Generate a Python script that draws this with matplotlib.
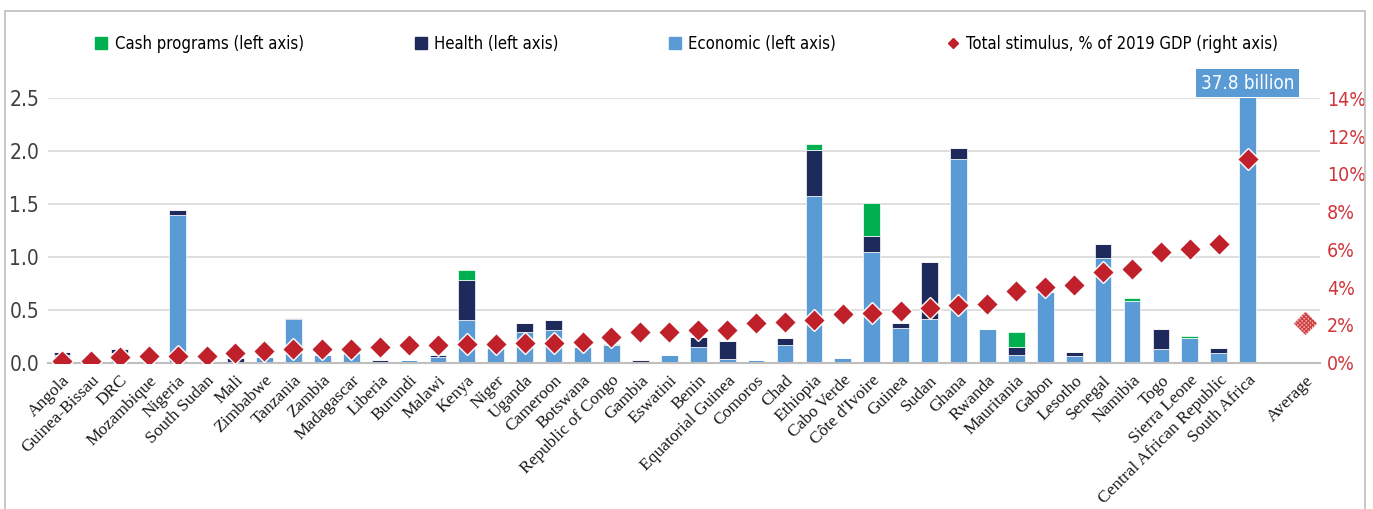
import numpy as np
import matplotlib
matplotlib.use("Agg")
import matplotlib.pyplot as plt
from matplotlib.lines import Line2D
from matplotlib.patches import Rectangle
from matplotlib import font_manager

countries = ["Angola", "Guinea-Bissau", "DRC", "Mozambique", "Nigeria", "South Sudan",
             "Mali", "Zimbabwe", "Tanzania", "Zambia", "Madagascar", "Liberia", "Burundi",
             "Malawi", "Kenya", "Niger", "Uganda", "Cameroon", "Botswana",
             "Republic of Congo", "Gambia", "Eswatini", "Benin", "Equatorial Guinea",
             "Comoros", "Chad", "Ethiopia", "Cabo Verde", "Côte d'Ivoire", "Guinea",
             "Sudan", "Ghana", "Rwanda", "Mauritania", "Gabon", "Lesotho", "Senegal",
             "Namibia", "Togo", "Sierra Leone", "Central African Republic", "South Africa"]

# billions (left axis)
economic = [0.07, 0.0, 0.095, 0.02, 1.40, 0.0, 0.005, 0.05, 0.41, 0.07, 0.09, 0.005, 0.028,
            0.055, 0.40, 0.14, 0.29, 0.31, 0.15, 0.165, 0.005, 0.07, 0.146, 0.038, 0.022,
            0.164, 1.58, 0.047, 1.05, 0.325, 0.413, 1.93, 0.315, 0.076, 0.67, 0.063, 0.993,
            0.586, 0.127, 0.236, 0.095, 37.8]
health = [0.035, 0.0, 0.035, 0.0, 0.045, 0.0, 0.035, 0.0, 0.01, 0.0, 0.0, 0.02, 0.0,
          0.017, 0.38, 0.0, 0.085, 0.095, 0.0, 0.0, 0.02, 0.004, 0.10, 0.167, 0.0,
          0.066, 0.43, 0.0, 0.15, 0.047, 0.542, 0.10, 0.0, 0.075, 0.0, 0.035, 0.129,
          0.0, 0.188, 0.0, 0.044, 0.0]
cash = [0.0, 0.0, 0.0, 0.0, 0.0, 0.0, 0.0, 0.0, 0.0, 0.0, 0.0, 0.0, 0.0,
        0.0, 0.095, 0.0, 0.0, 0.0, 0.0, 0.009, 0.0, 0.0, 0.0, 0.0, 0.0,
        0.0, 0.057, 0.0, 0.307, 0.0, 0.0, 0.0, 0.0, 0.136, 0.0, 0.0, 0.0,
        0.028, 0.0, 0.016, 0.0, 0.0]
# % of 2019 GDP (right axis)
stimulus_pct = [0.1, 0.1, 0.3, 0.35, 0.35, 0.35, 0.53, 0.62, 0.71, 0.74, 0.74, 0.83, 0.94,
                0.94, 0.97, 0.97, 1.06, 1.06, 1.11, 1.38, 1.61, 1.64, 1.73, 1.73, 2.12,
                2.17, 2.26, 2.58, 2.61, 2.75, 2.88, 3.05, 3.10, 3.81, 4.02, 4.11, 4.78,
                4.94, 5.84, 6.02, 6.26, 10.78]
average_pct = 2.08
tick_labels = countries + ["", "Average"]

GREEN = "#00B050"
NAVY = "#1F2A5C"
BLUE = "#5B9BD5"
RED = "#C0202A"
RED_TXT = "#D0353C"

sans_fp = dict(family=["DejaVu Sans"], stretch="condensed")
serif = ["Liberation Serif", "DejaVu Serif"]

fig = plt.figure(figsize=(13.73, 5.09), dpi=100)
ax = fig.add_axes([0.0346, 0.2874, 0.9268, 0.5195])

x = np.arange(len(countries))
eco = np.array(economic)
hea = np.array(health)
csh = np.array(cash)
w = 0.58
ax.bar(x, eco, w, color=BLUE, edgecolor="white", linewidth=0.5)
ax.bar(x, hea, w, bottom=eco, color=NAVY, edgecolor="white", linewidth=0.5)
ax.bar(x, csh, w, bottom=eco + hea, color=GREEN, edgecolor="white", linewidth=0.5)

ax.set_xlim(-0.5, len(tick_labels) - 0.5)
ax.set_ylim(0, 2.5)
ax.set_yticks(np.arange(0, 2.51, 0.5))
ax.set_yticklabels([f"{v:.1f}" for v in np.arange(0, 2.51, 0.5)],
                   fontsize=15, color="#404040", **sans_fp)
ax.set_xticks(np.arange(len(tick_labels)))
ax.set_xticklabels(tick_labels, rotation=45, ha="right", rotation_mode="anchor",
                   family=serif, fontsize=12.5, color="#1a1a1a")
ax.tick_params(axis="both", length=0)
ax.tick_params(axis="y", pad=6)
ax.tick_params(axis="x", pad=7)
ax.grid(axis="y", color="#D9D9D9", linewidth=1.2)
ax.set_axisbelow(True)
for s in ["top", "right", "left"]:
    ax.spines[s].set_visible(False)
ax.spines["bottom"].set_color("#BFBFBF")
ax.spines["bottom"].set_linewidth(1.5)

ax.annotate("37.8 billion", xy=(x[-1], 1.0), xycoords=("data", "axes fraction"),
            xytext=(0, 4), textcoords="offset points", ha="center", va="bottom",
            fontsize=13.5, color="white", **sans_fp,
            bbox=dict(boxstyle="square,pad=0.25", facecolor=BLUE, edgecolor="none"))

ax2 = ax.twinx()
ax2.set_ylim(0, 14)
ax2.set_yticks(np.arange(0, 15, 2))
ax2.set_yticklabels([f"{v}%" for v in range(0, 15, 2)], fontsize=14,
                    color=RED_TXT, **sans_fp)
ax2.tick_params(axis="y", length=0, pad=5)
for s in ["top", "right", "left", "bottom"]:
    ax2.spines[s].set_visible(False)
ax2.plot(x, stimulus_pct, linestyle="none", marker="D", markersize=11.7,
         markerfacecolor=RED, markeredgecolor="white", markeredgewidth=1)
ax2.scatter([len(tick_labels) - 1], [average_pct], marker="D", s=140,
            facecolor="#F2BDBD", edgecolor="#D04040", hatch="xxxxxxxx", linewidths=0)

handles = [
    Line2D([], [], linestyle="none", marker="s", markersize=8, color=GREEN),
    Line2D([], [], linestyle="none", marker="s", markersize=8, color=NAVY),
    Line2D([], [], linestyle="none", marker="s", markersize=8, color=BLUE),
    Line2D([], [], linestyle="none", marker="D", markersize=5, color=RED),
]
labels = ["Cash programs (left axis)", "Health (left axis)", "Economic (left axis)",
          "Total stimulus, % of 2019 GDP (right axis)"]
fig.legend(handles, labels, loc="center", bbox_to_anchor=(0.5, 0.913), ncol=4,
           frameon=False, prop=font_manager.FontProperties(size=12, **sans_fp),
           handlelength=0.8, handletextpad=0.4, columnspacing=6.6)

fig.add_artist(Rectangle((0.0036, -0.1), 0.9906, 1.078, transform=fig.transFigure,
                         fill=False, edgecolor="#BFBFBF", linewidth=1.2, clip_on=False))

fig.savefig("out.png", dpi=100)
